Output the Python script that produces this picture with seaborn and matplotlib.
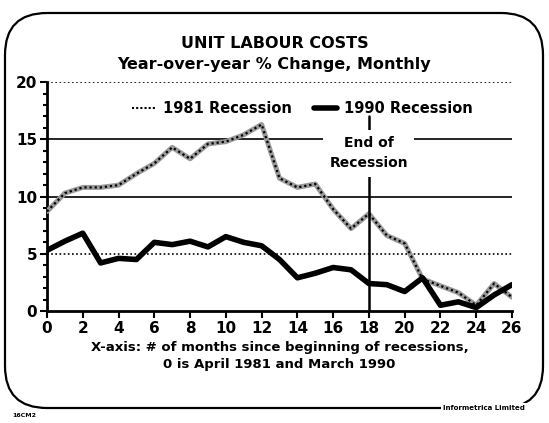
import pandas as pd
import seaborn as sns
import matplotlib.pyplot as plt
from matplotlib.lines import Line2D
from matplotlib.patches import FancyBboxPatch
from matplotlib.transforms import IdentityTransform

# Datos
meses = list(range(27))
rec_1981 = [8.7, 10.3, 10.8, 10.8, 11.0, 12.0, 12.9, 14.3, 13.3, 14.6, 14.8, 15.4, 16.3,
            11.6, 10.8, 11.1, 8.9, 7.2, 8.5, 6.6, 5.9, 2.8, 2.2, 1.6, 0.5, 2.4, 1.2]
rec_1990 = [5.3, 6.1, 6.8, 4.2, 4.6, 4.5, 6.0, 5.8, 6.1, 5.6, 6.5, 6.0, 5.7,
            4.5, 2.9, 3.3, 3.8, 3.6, 2.4, 2.3, 1.7, 2.9, 0.5, 0.8, 0.3, 1.4, 2.3]
fin_recesion = 18
y_ticks = [0, 5, 10, 15, 20]
x_ticks = list(range(0, 27, 2))

df = pd.DataFrame({"Mes": meses, "1981 Recession": rec_1981, "1990 Recession": rec_1990})

sns.set_style("white")
plt.rcParams["font.family"] = ["DejaVu Sans"]
plt.rcParams["font.weight"] = "bold"
for k in ["text.color", "axes.labelcolor", "xtick.color", "ytick.color", "axes.edgecolor"]:
    plt.rcParams[k] = "black"
W = "bold"

fig = plt.figure(figsize=(5.49, 4.23), dpi=100)
ax = fig.add_axes([0.0856, 0.2648, 0.847, 0.541])

# ---- lineas de referencia ----
ax.axhline(20, color="black", lw=1.2, ls=(0, (1, 1.5)), zorder=1)
ax.axhline(15, color="black", lw=1.2, zorder=1)
ax.axhline(10, color="black", lw=1.2, zorder=1)
ax.axhline(5, color="black", lw=1.2, ls=(0, (1, 1.5)), zorder=1)

# ---- series ----
sns.lineplot(data=df, x="Mes", y="1981 Recession", ax=ax, color="#9a9a9a", lw=3.6, zorder=3)
sns.lineplot(data=df, x="Mes", y="1981 Recession", ax=ax, color="black", lw=1.6,
             ls=(0, (1, 1.3)), zorder=4)
sns.lineplot(data=df, x="Mes", y="1990 Recession", ax=ax, color="black", lw=4, zorder=5)

# ---- fin de la recesion ----
ax.plot([fin_recesion, fin_recesion], [0, 17], color="black", lw=1.8, zorder=6)
ax.text(fin_recesion, 13.8, "End of\nRecession", ha="center", va="center", fontsize=10,
        fontweight=W, linespacing=1.6, zorder=7,
        bbox=dict(boxstyle="square,pad=0.45", fc="white", ec="none"))

ax.set_xlim(0, 26)
ax.set_ylim(0, 20)
ax.set_xticks(x_ticks)
ax.set_yticks(y_ticks)
ax.set_yticks(range(0, 21), minor=True)
ax.tick_params(axis="both", which="major", labelsize=11, length=5, width=1.5, direction="out",
               left=True, bottom=True, pad=2)
ax.tick_params(axis="y", which="minor", length=3, width=1.5, direction="out", left=True)
for lab in ax.get_xticklabels() + ax.get_yticklabels():
    lab.set_fontweight(W)
sns.despine(ax=ax)
ax.spines["left"].set_linewidth(2)
ax.spines["bottom"].set_linewidth(2)
ax.set_ylabel("")
ax.set_xlabel("X-axis: # of months since beginning of recessions,\n0 is April 1981 and March 1990",
              fontsize=9.5, fontweight=W, labelpad=4, linespacing=1.4)

# ---- leyenda ----
h1981 = Line2D([], [], color="black", lw=1.5, ls=(0, (1, 1)))
h1990 = Line2D([], [], color="black", lw=4)
leg = ax.legend([h1981, h1990], ["1981 Recession", "1990 Recession"], ncol=2, frameon=False,
                loc="center", bbox_to_anchor=(0.55, 0.885), fontsize=10.5, handlelength=1.6,
                columnspacing=1.5, handletextpad=0.5)
for t in leg.get_texts():
    t.set_fontweight(W)

# ---- titulos ----
fig.text(0.5, 1 - 44 / 423, "UNIT LABOUR COSTS", ha="center", va="center",
         fontsize=11.5, fontweight=W)
fig.text(0.5, 1 - 64 / 423, "Year-over-year % Change, Monthly", ha="center", va="center",
         fontsize=11.5, fontweight=W)

# ---- marco redondeado ----
marco = FancyBboxPatch((5, 15), 538, 395, boxstyle="round,pad=0,rounding_size=42",
                       transform=IdentityTransform(), fill=False, ec="black", lw=1.6)
fig.patches.append(marco)
fig.text(443 / 549, 15 / 423, "Informetrica Limited", ha="left", va="center", fontsize=5,
         fontweight=W, bbox=dict(boxstyle="square,pad=0.3", fc="white", ec="none"))
fig.text(12 / 549, 8 / 423, "16CM2", ha="left", va="center", fontsize=4.5, fontweight=W)

fig.savefig("out.png", dpi=100, facecolor="white")
